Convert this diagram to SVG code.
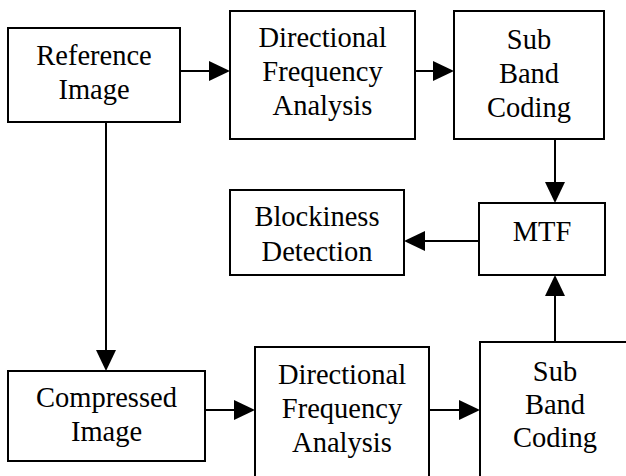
<svg xmlns="http://www.w3.org/2000/svg" width="626" height="476" viewBox="0 0 626 476">
<rect width="626" height="476" fill="#ffffff"/>
<g id="connectors" stroke="#000000" stroke-width="2" fill="none">
<line x1="180" y1="71" x2="210" y2="71"/>
<polygon points="209,61 230,71 209,81" fill="#000000" stroke="none"/>
<line x1="415" y1="71" x2="434" y2="71"/>
<polygon points="433,61 454,71 433,81" fill="#000000" stroke="none"/>
<line x1="555" y1="139" x2="555" y2="183"/>
<polygon points="545,182 555,203 565,182" fill="#000000" stroke="none"/>
<line x1="479" y1="241" x2="424" y2="241"/>
<polygon points="425,231 404,241 425,251" fill="#000000" stroke="none"/>
<line x1="555" y1="342" x2="555" y2="295"/>
<polygon points="545,296 555,275 565,296" fill="#000000" stroke="none"/>
<line x1="106" y1="122" x2="106" y2="351"/>
<polygon points="96,350 106,371 116,350" fill="#000000" stroke="none"/>
<line x1="205" y1="410" x2="235" y2="410"/>
<polygon points="234,400 255,410 234,420" fill="#000000" stroke="none"/>
<line x1="429" y1="410" x2="460" y2="410"/>
<polygon points="459,400 480,410 459,420" fill="#000000" stroke="none"/>
</g>
<g id="reference-image">
<rect x="8" y="28" width="172" height="94" fill="#ffffff" stroke="#000000" stroke-width="2"/>
<text x="36.25" y="65" font-family="Liberation Serif" font-size="28.5" textLength="115.5" lengthAdjust="spacingAndGlyphs">Reference</text>
<text x="58.4" y="99" font-family="Liberation Serif" font-size="28.5" textLength="71.2" lengthAdjust="spacingAndGlyphs">Image</text>
</g>
<g id="dfa-top">
<rect x="230" y="11" width="185" height="128" fill="#ffffff" stroke="#000000" stroke-width="2"/>
<text x="258.4" y="47" font-family="Liberation Serif" font-size="28.5" textLength="128.2" lengthAdjust="spacingAndGlyphs">Directional</text>
<text x="262.35" y="81" font-family="Liberation Serif" font-size="28.5" textLength="120.3" lengthAdjust="spacingAndGlyphs">Frequency</text>
<text x="272.6" y="115" font-family="Liberation Serif" font-size="28.5" textLength="99.75" lengthAdjust="spacingAndGlyphs">Analysis</text>
</g>
<g id="sbc-top">
<rect x="454" y="11" width="150" height="128" fill="#ffffff" stroke="#000000" stroke-width="2"/>
<text x="506.85" y="49" font-family="Liberation Serif" font-size="28.5" textLength="44.3" lengthAdjust="spacingAndGlyphs">Sub</text>
<text x="498.9" y="83" font-family="Liberation Serif" font-size="28.5" textLength="60.2" lengthAdjust="spacingAndGlyphs">Band</text>
<text x="487.05" y="117" font-family="Liberation Serif" font-size="28.5" textLength="83.9" lengthAdjust="spacingAndGlyphs">Coding</text>
</g>
<g id="blockiness">
<rect x="230" y="190" width="174" height="85" fill="#ffffff" stroke="#000000" stroke-width="2"/>
<text x="254.45" y="226" font-family="Liberation Serif" font-size="28.5" textLength="125.1" lengthAdjust="spacingAndGlyphs">Blockiness</text>
<text x="261.6" y="261" font-family="Liberation Serif" font-size="28.5" textLength="110.8" lengthAdjust="spacingAndGlyphs">Detection</text>
</g>
<g id="mtf">
<rect x="479" y="203" width="126" height="72" fill="#ffffff" stroke="#000000" stroke-width="2"/>
<text x="512.7" y="241" font-family="Liberation Serif" font-size="28.5" textLength="58.6" lengthAdjust="spacingAndGlyphs">MTF</text>
</g>
<g id="compressed-image">
<rect x="8" y="371" width="197" height="90" fill="#ffffff" stroke="#000000" stroke-width="2"/>
<text x="36.05" y="407" font-family="Liberation Serif" font-size="28.5" textLength="140.9" lengthAdjust="spacingAndGlyphs">Compressed</text>
<text x="70.9" y="441" font-family="Liberation Serif" font-size="28.5" textLength="71.2" lengthAdjust="spacingAndGlyphs">Image</text>
</g>
<g id="dfa-bottom">
<rect x="255" y="347" width="174" height="140" fill="#ffffff" stroke="#000000" stroke-width="2"/>
<text x="277.9" y="384" font-family="Liberation Serif" font-size="28.5" textLength="128.2" lengthAdjust="spacingAndGlyphs">Directional</text>
<text x="281.85" y="418" font-family="Liberation Serif" font-size="28.5" textLength="120.3" lengthAdjust="spacingAndGlyphs">Frequency</text>
<text x="292.1" y="452" font-family="Liberation Serif" font-size="28.5" textLength="99.75" lengthAdjust="spacingAndGlyphs">Analysis</text>
</g>
<g id="sbc-bottom">
<rect x="480" y="342" width="150" height="145" fill="#ffffff" stroke="#000000" stroke-width="2"/>
<text x="532.85" y="381" font-family="Liberation Serif" font-size="28.5" textLength="44.3" lengthAdjust="spacingAndGlyphs">Sub</text>
<text x="524.9" y="414" font-family="Liberation Serif" font-size="28.5" textLength="60.2" lengthAdjust="spacingAndGlyphs">Band</text>
<text x="513.05" y="447" font-family="Liberation Serif" font-size="28.5" textLength="83.9" lengthAdjust="spacingAndGlyphs">Coding</text>
</g>
</svg>
